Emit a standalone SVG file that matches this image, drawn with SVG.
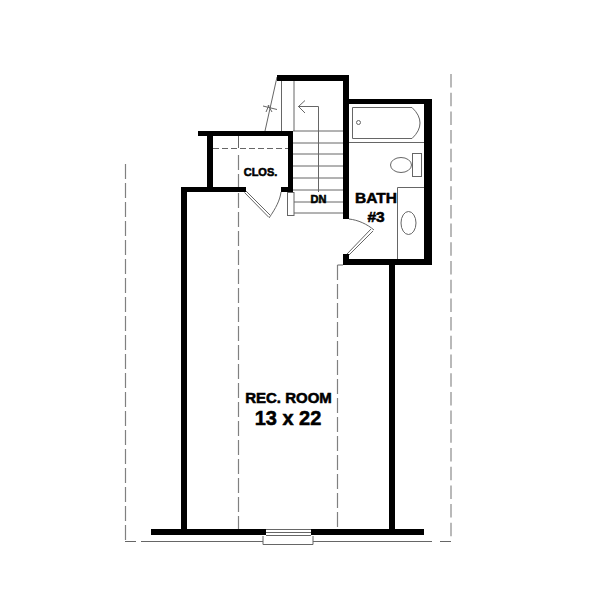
<svg xmlns="http://www.w3.org/2000/svg" width="600" height="600" viewBox="0 0 600 600">
<style>
.w{fill:#000}
.l{fill:none;stroke:#666;stroke-width:1}
.d{fill:none;stroke:#808080;stroke-width:1.200;stroke-dasharray:15 4}
.o{fill:none;stroke:#a8a8a8;stroke-width:1.600;stroke-dasharray:13.500 5.200}
.t{font-family:"Liberation Sans",Arial,sans-serif;font-weight:bold;fill:#000;stroke:#000;stroke-width:.55;text-anchor:middle}
</style>
<rect width="600" height="600" fill="#fff"/>
<!-- dashed outlines -->
<path class="d" d="M125.500 164V541.500"/>
<path class="l" d="M125 541.500H136M141 541.500H263M313 541.500H432M440 541.500H451"/>
<path class="o" d="M451 74V541"/>
<path class="d" d="M238.500 155V529"/>
<path class="l" d="M238.500 136V148"/>
<path class="d" d="M337.500 265V529"/>
<path class="l" d="M337.500 265H343"/>
<path class="l" d="M213 148.500H288" style="stroke-dasharray:6 3"/>
<!-- stairs -->
<path class="l" d="M281.500 81V131M294 81V131"/>
<path class="l" d="M293 131H343M293 143H343M293 154H343M293 166H343M293 178H343M293 190H343M293 202H343M293 213H343"/>
<path class="l" d="M318.500 106.500V192M298 106.500H318.500M305 100.500L298.500 106.500L305 113"/>
<!-- break line -->
<path class="l" d="M277 77L265 131"/>
<path class="l" d="M263 106L277 109.500M266 112L269 105M272 112L268 105"/>
<!-- door closet -->
<path class="l" d="M246 191L270 215M244.500 192.500L268.500 217"/>
<path class="l" d="M269 218C276 208 280 200 281 192"/>
<rect x="287.500" y="192.500" width="6.500" height="23" fill="#fff" stroke="#666"/>
<!-- bath door -->
<path class="l" d="M349 219C358 220 367 224 374 230M371 229L347 254M373 231L349 255"/>
<!-- tub -->
<path class="l" d="M349 142.500H424"/>
<path class="l" d="M352.500 107.500H412Q420 115 420 123Q420 131 412 138.500H352.500Z"/>
<circle class="l" cx="358.500" cy="122.500" r="2"/>
<!-- wc -->
<ellipse class="l" cx="401" cy="165" rx="10.500" ry="7.500"/>
<rect class="l" x="412.500" y="153.500" width="9" height="23"/>
<!-- vanity -->
<path class="l" d="M424 187.500H397.500V259"/>
<ellipse class="l" cx="408.500" cy="223" rx="7.500" ry="11.500"/>
<!-- window -->
<path class="l" d="M266 529.500H311M266 532.500H311M266 535.500H311"/>
<path class="l" d="M263 536V544.500H313V536"/>
<!-- walls -->
<g id="walls">
<rect class="w" x="277" y="75" width="72" height="6"/>
<rect class="w" x="343" y="75" width="6" height="144"/>
<rect class="w" x="343" y="99" width="89" height="5"/>
<rect class="w" x="424" y="99" width="8" height="166"/>
<rect class="w" x="343" y="259" width="89" height="6"/>
<rect class="w" x="343" y="254" width="6" height="11"/>
<rect class="w" x="389" y="265" width="6" height="265"/>
<rect class="w" x="198" y="131" width="95" height="5"/>
<rect class="w" x="207" y="131" width="6" height="60"/>
<rect class="w" x="288" y="131" width="5" height="61"/>
<rect class="w" x="181" y="187" width="65" height="5"/>
<rect class="w" x="281" y="187" width="12" height="5"/>
<rect class="w" x="181" y="187" width="6" height="343"/>
<rect class="w" x="151" y="529" width="115" height="6"/>
<rect class="w" x="311" y="529" width="113" height="6"/>
</g>
<!-- labels -->
<g id="labels">
<text class="t" x="260.500" y="176" font-size="11">CLOS.</text>
<text class="t" x="318.500" y="203" font-size="11">DN</text>
<text class="t" x="376" y="203" font-size="15.500">BATH</text>
<text class="t" x="376" y="222" font-size="15.500">#3</text>
<text class="t" x="288.500" y="403" font-size="15">REC. ROOM</text>
<text class="t" x="288" y="425" font-size="20">13 x 22</text>
</g>
</svg>
